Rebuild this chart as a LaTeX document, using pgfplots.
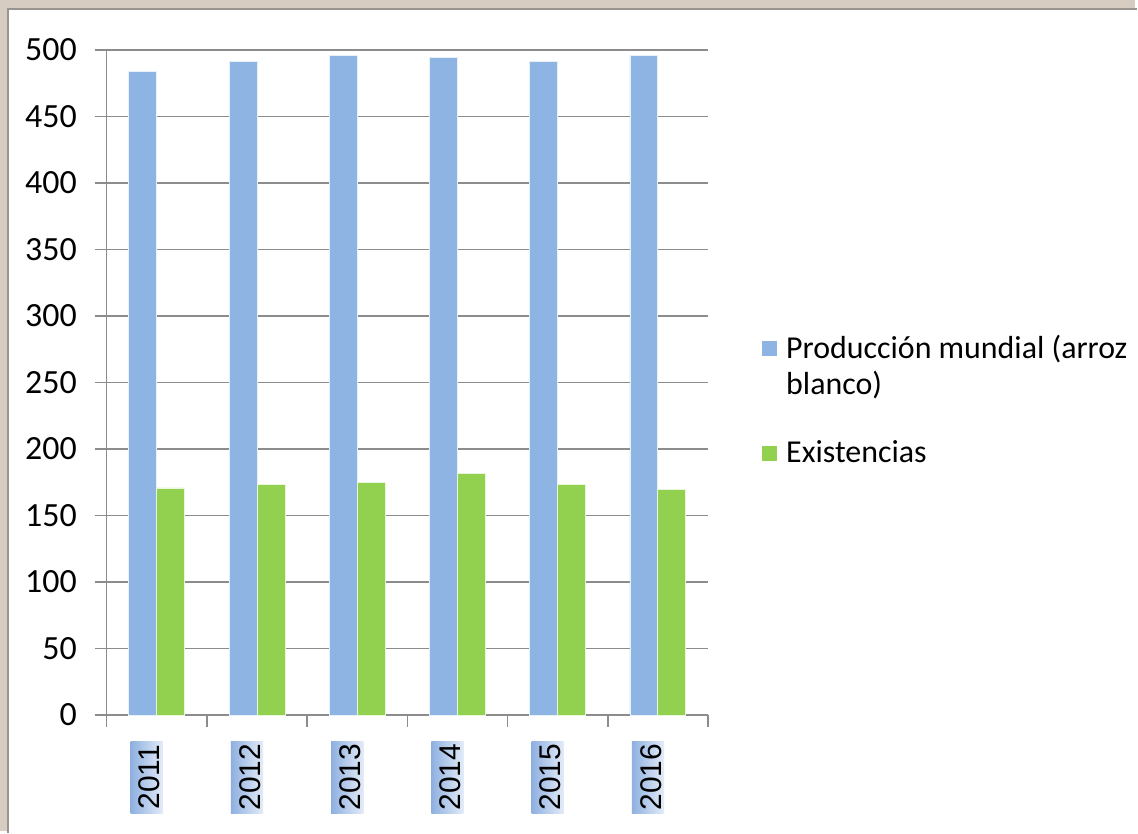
\documentclass[border=0pt]{standalone}
\usepackage{pgfplots}
\pgfplotsset{compat=1.18}
\usepackage{fontspec}
\setmainfont{Carlito}
\newfontfamily\arialf{Liberation Sans}
\definecolor{barblue}{HTML}{8EB4E3}
\definecolor{bargreen}{HTML}{92D050}
\definecolor{gridgray}{HTML}{8C8C8C}
\definecolor{bgtex}{HTML}{D6CCC1}
\definecolor{framegray}{HTML}{9A9490}
\definecolor{lblblue}{HTML}{8EB0E0}
\definecolor{lbllight}{HTML}{E4ECF8}
\begin{document}
\begin{tikzpicture}
\fill[bgtex] (0pt,0pt) rectangle (569pt,416.5pt);
\fill[white] (4pt,0pt) rectangle (569pt,412pt);
\draw[framegray, line width=1.2pt] (4pt,-1pt) -- (4pt,412pt) -- (570pt,412pt);
\useasboundingbox (0pt,0pt) rectangle (569pt,416.5pt);
\begin{axis}[
  at={(53.5pt,58pt)}, anchor=south west,
  scale only axis, width=301.5pt, height=333.5pt,
  ybar=0pt, bar width=14pt,
  xmin=-0.5, xmax=5.5, ymin=0, ymax=500,
  ytick={0,50,...,500},
  xtick={-0.5,0.5,...,5.5},
  xticklabels={2011,2012,2013,2014,2015,2016},
  x tick label as interval,
  axis x line*=bottom, axis y line*=left,
  axis line style={gridgray, line width=0.8pt, -},
  tick align=outside, major tick length=6pt,
  tick style={gridgray, line width=0.8pt},
  ymajorgrids, grid style={gridgray, line width=0.8pt},
  /pgf/number format/assume math mode=true,
  yticklabel style={font=\fontsize{17}{20}\selectfont, xshift=-5.5pt},
  xticklabel style={font=\arialf\fontsize{15}{17}\selectfont, xshift=-5pt, yshift=-7pt, rotate=90, anchor=east,
     inner sep=0pt, text height=14.7pt, text depth=1.5pt, minimum width=36pt,
     left color=lblblue, right color=lbllight},
  legend style={at={(1.08,0.584)}, anchor=north west, draw=none, fill=none,
     font=\fontsize{16}{18}\selectfont, row sep=18pt,
     nodes={align=left},
     /tikz/every odd column/.append style={column sep=2.5pt}},
  legend cell align=left,
  clip=false,
]
\addplot[fill=barblue, draw=white!80!barblue, line width=0.4pt,
  legend image code/.code={\fill[barblue] (0pt,5.5pt) rectangle (7pt,12.5pt);}]
  coordinates {(0,483.5) (1,491) (2,496) (3,494) (4,491) (5,496)};
\addplot[fill=bargreen, draw=white!80!bargreen, line width=0.4pt,
  legend image code/.code={\fill[bargreen] (0pt,-3.5pt) rectangle (7pt,3.5pt);}]
  coordinates {(0,170.7) (1,173.4) (2,174.7) (3,181.4) (4,173.4) (5,169.4)};
\legend{Producción mundial (arroz\\blanco), Existencias}
\end{axis}
\end{tikzpicture}
\end{document}
